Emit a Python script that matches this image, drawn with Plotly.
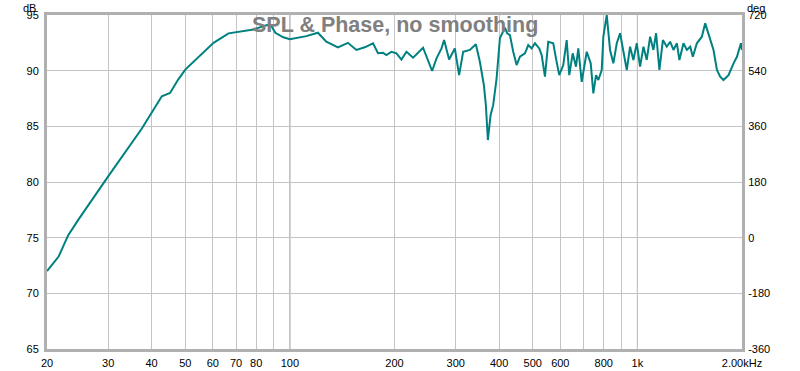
import plotly.graph_objects as go

# Frequency (Hz) and SPL (dB)
freq_hz = [20.0, 21.6, 23.0, 24.6, 30.0, 37.5, 42.8, 45.2, 47.7, 50.0,
           60.3, 66.6, 78.6, 85.9, 88.5, 90.8, 95.7, 100.0, 111.5, 120.4,
           127.3, 137.5, 146.9, 155.4, 164.2, 173.5, 179.3, 185.4, 189.6, 196.0,
           202.6, 209.4, 216.5, 226.2, 241.7, 256.6, 264.2, 273.1, 277.8, 287.2,
           298.3, 306.9, 315.2, 329.5, 342.9, 352.1, 361.6, 366.4, 371.3, 378.0,
           384.6, 393.4, 402.1, 415.7, 422.0, 429.7, 439.2, 449.2, 459.2, 474.7,
           485.2, 496.2, 507.2, 521.9, 530.3, 542.0, 554.0, 572.7, 583.0, 595.9,
           611.9, 625.9, 636.8, 651.3, 665.8, 676.1, 691.5, 714.8, 734.0, 746.8,
           760.3, 772.0, 789.6, 798.0, 816.2, 834.3, 852.8, 872.3, 891.6, 911.3,
           932.1, 952.7, 973.8, 996.0, 1018, 1041, 1064, 1088, 1112, 1132,
           1157, 1184, 1215, 1242, 1270, 1299, 1321, 1357, 1388, 1419,
           1444, 1483, 1533, 1567, 1613, 1656, 1694, 1731, 1769, 1829,
           1891, 1934, 1986, 2000]
spl_db = [72.0, 73.3, 75.2, 76.6, 80.5, 84.8, 87.7, 88.0, 89.2, 90.1,
          92.5, 93.35, 93.7, 94.1, 94.0, 93.4, 93.0, 92.82, 93.1, 93.41,
          92.6, 92.1, 92.5, 91.86, 92.1, 92.46, 91.56, 91.6, 91.4, 91.7,
          91.56, 91.0, 91.7, 91.17, 92.06, 89.97, 91.1, 92.0, 92.75, 91.0,
          92.0, 89.6, 91.7, 91.86, 92.37, 90.8, 88.7, 86.9, 83.77, 86.0,
          86.9, 89.3, 92.9, 93.86, 93.36, 93.2, 91.7, 90.5, 91.25, 91.56,
          92.3, 92.0, 92.46, 92.0, 91.4, 89.46, 92.6, 92.46, 91.1, 89.6,
          90.5, 92.75, 89.6, 91.56, 90.36, 92.0, 89.0, 91.7, 90.66, 87.96,
          89.6, 89.16, 90.06, 93.05, 95.0, 91.86, 90.66, 92.46, 93.36, 91.56,
          90.06, 92.15, 90.96, 92.46, 90.36, 92.15, 90.96, 93.05, 91.86, 93.36,
          90.06, 92.75, 92.15, 92.6, 91.86, 92.46, 90.96, 92.46, 91.86, 92.15,
          91.25, 92.46, 93.05, 94.25, 93.05, 91.86, 90.06, 89.46, 89.16, 89.6,
          90.66, 91.25, 92.46, 91.86]

x_tickvals = [20, 30, 40, 50, 60, 70, 80, 90, 100, 200, 300, 400, 500, 600, 700, 800, 900, 1000, 2000]
x_ticktext = ["20", "30", "40", "50", "60", "70", "80", "", "100", "200", "300", "400", "500", "600", "", "800", "", "1k", "2.00kHz"]
db_ticks = [65, 70, 75, 80, 85, 90, 95]
deg_ticks = [-360, -180, 0, 180, 360, 540, 720]
deg_ticktext = ["-360", "-180", "0", "180", "360", "540", "720"]
major_lines = [100, 1000]

font_family = "Liberation Sans, Arial, sans-serif"

fig = go.Figure()
fig.add_trace(go.Scatter(x=freq_hz, y=spl_db, mode="lines",
                         line=dict(color="#008080", width=2), showlegend=False,
                         hoverinfo="skip"))
fig.add_trace(go.Scatter(x=[20], y=[None], yaxis="y2", mode="lines", showlegend=False))

for f in major_lines:
    fig.add_shape(type="line", xref="x", yref="paper", x0=f, x1=f, y0=0, y1=1,
                  line=dict(color="#8c8c8c", width=1), layer="below")

fig.update_layout(
    width=800, height=371,
    margin=dict(l=47, r=58, t=15, b=22, autoexpand=False),
    paper_bgcolor="white", plot_bgcolor="white",
    font=dict(family=font_family, size=11, color="#000000"),
    xaxis=dict(type="log", range=[1.30103, 3.30103], tickvals=x_tickvals, ticktext=x_ticktext,
               showgrid=True, gridcolor="#c4c4c4", gridwidth=1, zeroline=False,
               showline=True, linecolor="#b0b0b0", linewidth=3, mirror=True,
               ticks="outside", ticklen=2, tickcolor="rgba(0,0,0,0)",
               tickfont=dict(size=11, color="#000000")),
    yaxis=dict(range=[65, 95], tickvals=db_ticks, showgrid=True, gridcolor="#c4c4c4",
               gridwidth=1, zeroline=False, showline=True, linecolor="#b0b0b0",
               linewidth=3, mirror=True, ticks="outside", ticklen=3,
               tickcolor="rgba(0,0,0,0)", tickfont=dict(size=11, color="#000000")),
    yaxis2=dict(range=[-360, 720], tickvals=deg_ticks, ticktext=deg_ticktext,
                overlaying="y", side="right",
                showgrid=False, zeroline=False, showline=False, ticks="outside",
                ticklen=3, tickcolor="rgba(0,0,0,0)",
                tickfont=dict(size=11, color="#000000")),
    annotations=[
        dict(text="<b>SPL & Phase, no smoothing</b>", xref="paper", yref="paper",
             x=0.5, y=1, yshift=-10, xanchor="center", yanchor="middle", showarrow=False,
             font=dict(family=font_family, size=21.5, color="#808080")),
        dict(text="dB", xref="paper", yref="paper", x=0, y=1, xshift=-9, yshift=15,
             xanchor="right", yanchor="top", showarrow=False,
             font=dict(family=font_family, size=11, color="#000000")),
        dict(text="deg", xref="paper", yref="paper", x=1, y=1, xshift=3, yshift=15,
             xanchor="left", yanchor="top", showarrow=False,
             font=dict(family=font_family, size=11, color="#000000")),
    ],
)

fig.write_html("out.html", config={"displayModeBar": False},
               post_script="document.body.style.margin='0';document.body.style.padding='0';")
